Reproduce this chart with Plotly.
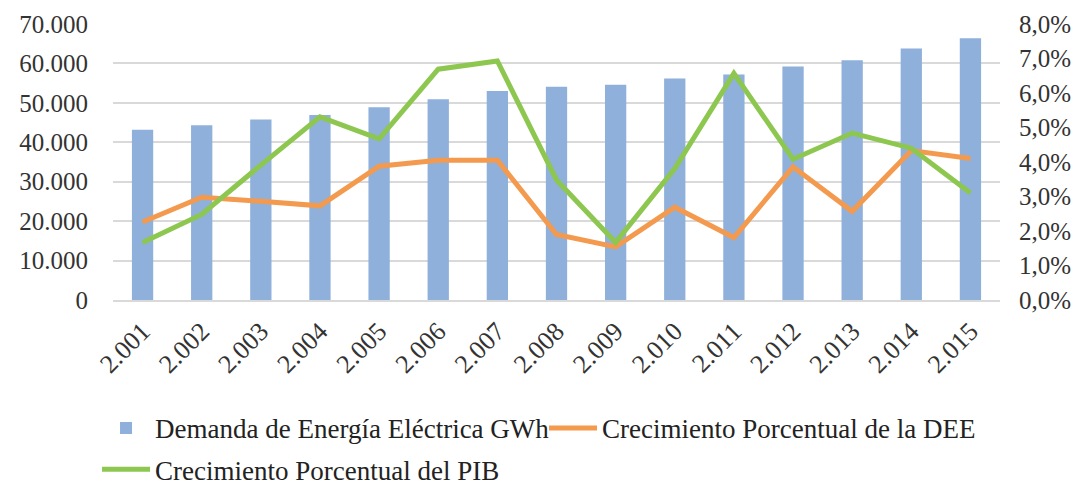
import plotly.graph_objects as go

years = ["2.001", "2.002", "2.003", "2.004", "2.005", "2.006", "2.007", "2.008",
         "2.009", "2.010", "2.011", "2.012", "2.013", "2.014", "2.015"]
demanda_gwh = [43200, 44300, 45800, 46900, 48900, 50900, 53000, 54100,
               54600, 56200, 57200, 59200, 60800, 63800, 66400]
crec_dee = [0.0226, 0.0298, 0.0286, 0.0273, 0.0388, 0.0405, 0.0405, 0.0190,
            0.0154, 0.0269, 0.0181, 0.0386, 0.0257, 0.0433, 0.0410]
crec_pib = [0.0167, 0.0248, 0.0391, 0.0531, 0.0467, 0.0669, 0.0693, 0.0348,
            0.0167, 0.0381, 0.0657, 0.0408, 0.0484, 0.0440, 0.0310]

left_ticks = [0, 10000, 20000, 30000, 40000, 50000, 60000, 70000]
right_ticks = [0, 0.01, 0.02, 0.03, 0.04, 0.05, 0.06, 0.07, 0.08]

FONT = "Liberation Serif"
TXT = "#333333"
GRID = "#D9D9D9"

fig = go.Figure()
fig.add_trace(go.Bar(
    x=years, y=demanda_gwh, name="Demanda de Energía Eléctrica GWh",
    marker=dict(color="#8EB0DA", line=dict(width=0)), yaxis="y",
    legend="legend"))
fig.add_trace(go.Scatter(
    x=years, y=crec_dee, name="Crecimiento Porcentual de la DEE",
    mode="lines", line=dict(color="#F39A4E", width=5), yaxis="y2",
    legend="legend"))
fig.add_trace(go.Scatter(
    x=years, y=crec_pib, name="Crecimiento Porcentual del PIB",
    mode="lines", line=dict(color="#8DC750", width=5), yaxis="y2",
    legend="legend2"))

legend_common = dict(
    orientation="h", xanchor="left", yanchor="middle",
    font=dict(family=FONT, size=27, color="#222222"),
    itemwidth=48, bgcolor="rgba(0,0,0,0)")

fig.update_layout(
    width=1077, height=483,
    margin=dict(l=105, r=85, t=16, b=191, autoexpand=False),
    paper_bgcolor="white", plot_bgcolor="white",
    separators=",.",
    bargap=0.64,
    font=dict(family=FONT, size=24, color=TXT),
    xaxis=dict(
        type="category", showgrid=False, showline=True, linecolor=GRID,
        linewidth=1.5, ticks="", tickangle=-45, automargin=False,
        ticklabelstandoff=4, ticklabeloverflow="allow",
        tickfont=dict(family=FONT, size=26, color=TXT)),
    yaxis=dict(
        range=[0, 70000], tickvals=left_ticks, tickformat=",d",
        showgrid=True, gridcolor=GRID, gridwidth=1.5, zeroline=False,
        showline=False, ticks="", ticklabelstandoff=24, automargin=False,
        ticklabeloverflow="allow",
        tickfont=dict(family=FONT, size=25, color=TXT)),
    yaxis2=dict(
        range=[0, 0.08], tickvals=right_ticks, tickformat=".1%",
        overlaying="y", side="right", showgrid=False, zeroline=False,
        showline=False, ticks="", ticklabelstandoff=18, automargin=False,
        ticklabeloverflow="allow",
        tickfont=dict(family=FONT, size=25, color=TXT)),
    legend=dict(legend_common, x=-0.018, y=-0.465,
                entrywidth=384, entrywidthmode="pixels"),
    legend2=dict(legend_common, x=-0.018, y=-0.615),
    showlegend=True,
)

fig.write_html("out.html")
